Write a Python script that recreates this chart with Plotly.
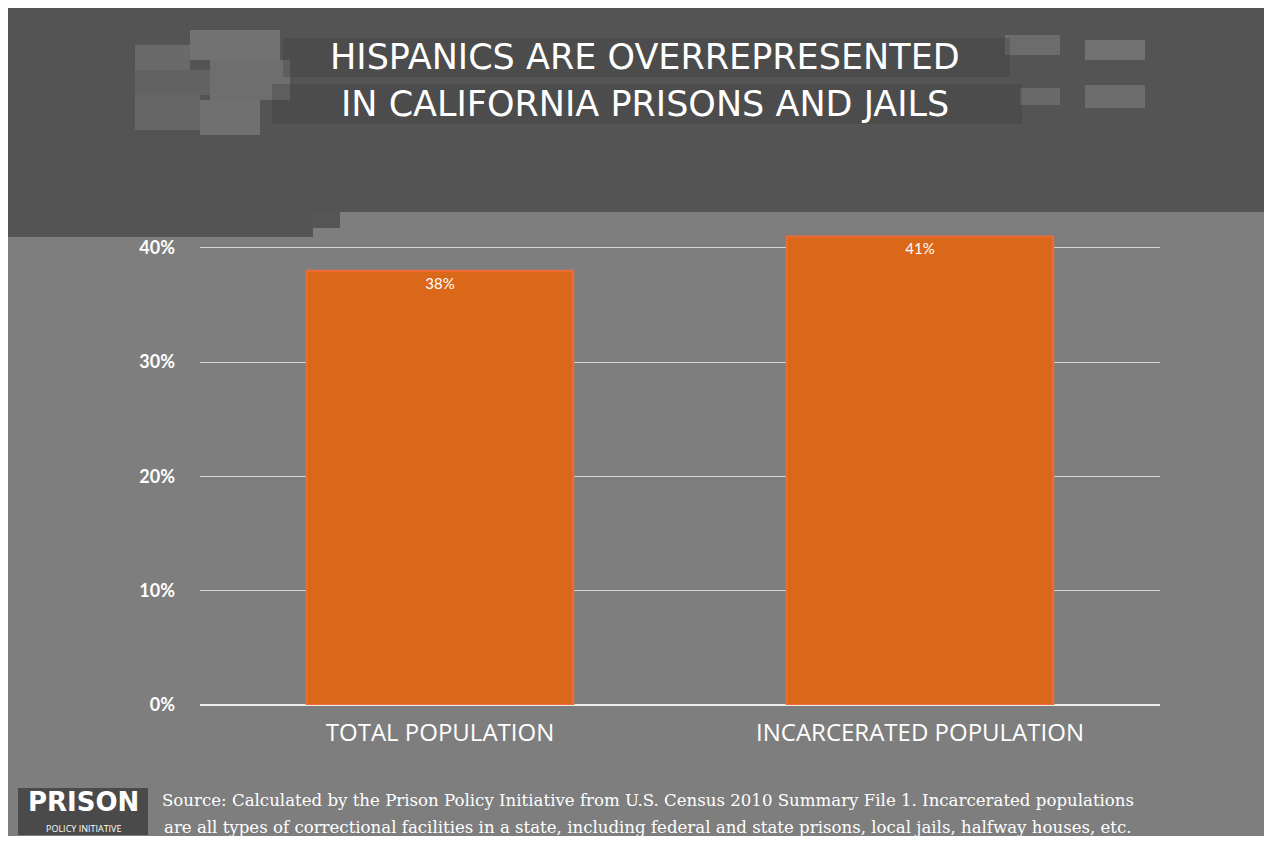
import plotly.graph_objects as go

categories = ["TOTAL POPULATION", "INCARCERATED POPULATION"]
values = [38, 41]
value_labels = ["38%", "41%"]
tick_values = [0, 10, 20, 30, 40]
tick_labels = ["<b>0%</b>", "<b>10%</b>", "<b>20%</b>", "<b>30%</b>", "<b>40%</b>"]

title_lines = ["HISPANICS ARE OVERREPRESENTED", "IN CALIFORNIA PRISONS AND JAILS"]
source_lines = [
    "Source: Calculated by the Prison Policy Initiative from U.S. Census 2010 Summary File 1. Incarcerated populations",
    "are all types of correctional facilities in a state, including federal and state prisons, local jails, halfway houses, etc.",
]

OFF = 8  # page body margin
W, H = 1272, 843
L, R, T, B = 200 - OFF, 112 + OFF, 225 - OFF, 138 + OFF
PW, PH = W - L - R, H - T - B


def px(x):
    return (x - OFF - L) / PW


def py(y):
    return (H - B - (y - OFF)) / PH


fig = go.Figure()
fig.add_trace(go.Bar(
    x=categories, y=values, text=value_labels,
    textposition="inside", insidetextanchor="end",
    textfont=dict(color="white", size=15, family="Lato"),
    marker=dict(color="#db6719", line=dict(color="#ee6b3c", width=2)),
    width=0.555, cliponaxis=False,
))

shapes = []
shapes.append(dict(type="rect", xref="paper", yref="paper", x0=px(8), x1=px(1265), y0=py(836), y1=py(8),
                   fillcolor="#7e7e7e", line=dict(width=0), layer="below"))
shapes.append(dict(type="rect", xref="paper", yref="paper", x0=px(8), x1=px(1265), y0=py(212), y1=py(8),
                   fillcolor="#545454", line=dict(width=0), layer="below"))
shapes.append(dict(type="rect", xref="paper", yref="paper", x0=px(8), x1=px(313), y0=py(237), y1=py(212),
                   fillcolor="#555555", line=dict(width=0), layer="below"))
shapes.append(dict(type="rect", xref="paper", yref="paper", x0=px(313), x1=px(340), y0=py(228), y1=py(212),
                   fillcolor="#565656", line=dict(width=0), layer="below"))
blocks = [
    (135, 45, 190, 70, "#6a6a6a"), (190, 30, 280, 60, "#727272"), (135, 70, 210, 95, "#626262"),
    (210, 60, 290, 100, "#6e6e6e"), (135, 95, 200, 130, "#666666"), (200, 100, 260, 135, "#707070"),
    (1005, 35, 1060, 55, "#6c6c6c"), (1085, 40, 1145, 60, "#727272"),
    (1020, 88, 1060, 105, "#6a6a6a"), (1085, 85, 1145, 108, "#6d6d6d"),
]
for x0, y0, x1, y1, c in blocks:
    shapes.append(dict(type="rect", xref="paper", yref="paper", x0=px(x0), x1=px(x1), y0=py(y1), y1=py(y0),
                       fillcolor=c, line=dict(width=0), layer="below"))
shapes.append(dict(type="rect", xref="paper", yref="paper", x0=px(283), x1=px(1010), y0=py(77), y1=py(38),
                   fillcolor="#3c3c3c", opacity=0.3, line=dict(width=0), layer="below"))
shapes.append(dict(type="rect", xref="paper", yref="paper", x0=px(272), x1=px(1022), y0=py(124), y1=py(84),
                   fillcolor="#3c3c3c", opacity=0.3, line=dict(width=0), layer="below"))
shapes.append(dict(type="rect", xref="paper", yref="paper", x0=px(18), x1=px(148), y0=py(835), y1=py(788),
                   fillcolor="#4a4a4a", line=dict(width=0), layer="below"))

annotations = []
for i, line in enumerate(title_lines):
    yc = 57 + i * 47
    annotations.append(dict(text=line, xref="paper", yref="paper", x=px(645), y=py(yc), xanchor="center",
                            yanchor="middle", showarrow=False,
                            font=dict(family="DejaVu Sans", size=35, color="white")))

annotations.append(dict(text="<b>PRISON</b>", xref="paper", yref="paper", x=px(83), y=py(802),
                        xanchor="center", yanchor="middle", showarrow=False,
                        font=dict(family="DejaVu Sans", size=26, color="white")))
annotations.append(dict(text="POLICY INITIATIVE", xref="paper", yref="paper", x=px(83), y=py(828),
                        xanchor="center", yanchor="middle", showarrow=False,
                        font=dict(family="Open Sans", size=9, color="white")))
for i, line in enumerate(source_lines):
    yc = 800 + i * 27
    annotations.append(dict(text=line, xref="paper", yref="paper", x=px(648), y=py(yc), xanchor="center",
                            yanchor="middle", showarrow=False,
                            font=dict(family="DejaVu Serif", size=16.6, color="white")))

fig.update_layout(
    width=W, height=H,
    margin=dict(l=L, r=R, t=T, b=B, pad=0),
    paper_bgcolor="white", plot_bgcolor="rgba(0,0,0,0)",
    showlegend=False,
    shapes=shapes, annotations=annotations,
    xaxis=dict(showgrid=False, showline=False, zeroline=False, ticks="",
               tickfont=dict(family="Open Sans", size=24, color="white"), ticklabelstandoff=11),
    yaxis=dict(range=[0, 42], tickvals=tick_values, ticktext=tick_labels,
               showgrid=True, gridcolor="#d6d6d6", gridwidth=1,
               zeroline=True, zerolinecolor="#eeeeee", zerolinewidth=2,
               showline=False, ticks="", ticklabelstandoff=24,
               tickfont=dict(family="Lato", size=18, color="white")),
    font=dict(family="Open Sans"),
)

fig.write_html("out.html")
